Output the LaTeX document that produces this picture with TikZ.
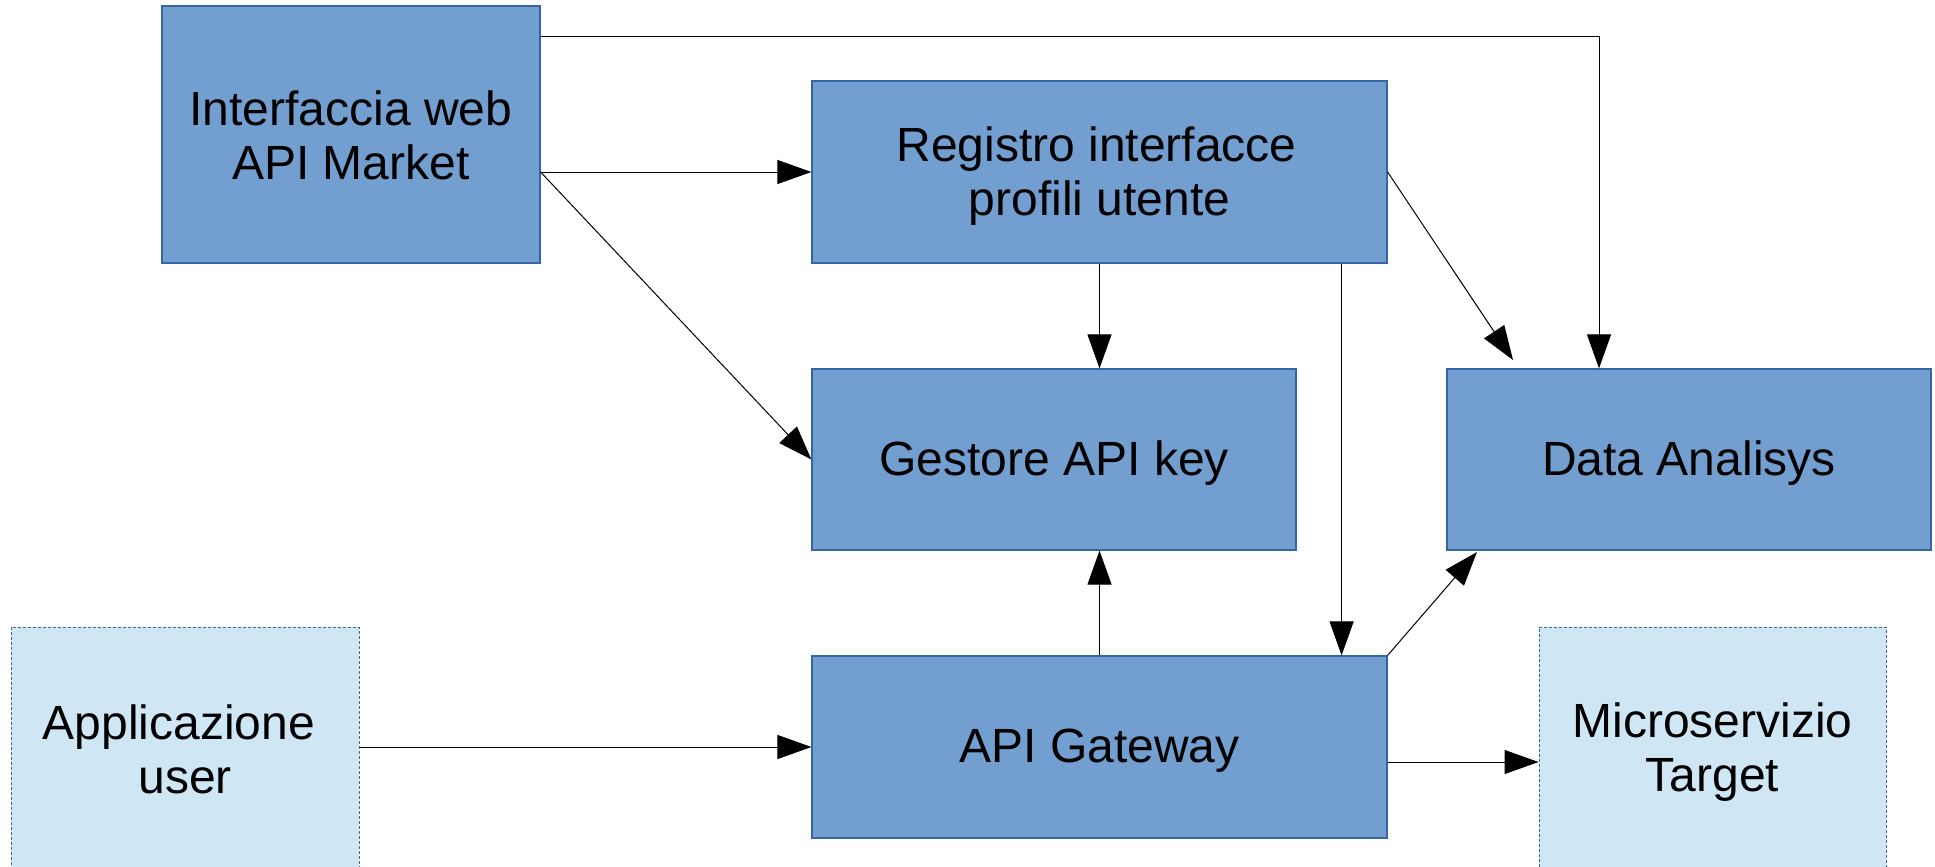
\documentclass[tikz,border=0pt]{standalone}
\usepackage{fontspec}
\setmainfont{Liberation Sans}
\usetikzlibrary{arrows.meta,calc}
\definecolor{boxblue}{HTML}{729FCF}
\definecolor{boxline}{HTML}{3465A4}
\definecolor{lightblue}{HTML}{CFE7F5}
\tikzset{
  darkbox/.style={fill=boxblue, draw=boxline, line width=1.2pt, inner sep=0pt},
  lightbox/.style={fill=lightblue, draw=boxline, line width=1pt, dash pattern=on 3pt off 2pt, inner sep=0pt},
  txt/.style={inner sep=0pt, align=center, font=\fontsize{48}{54}\selectfont},
  conn/.style={draw=black, line width=1pt, -{Triangle[length=34pt,width=24pt]}}
}
\begin{document}
\begin{tikzpicture}[x=1pt,y=-1pt]
\clip (0,0) rectangle (1935,867);
\fill[white] (0,0) rectangle (1935,867);
% boxes (positions in px)
\node[darkbox, minimum width=378pt, minimum height=257pt] (iw) at (351,134.5) {};
\node[darkbox, minimum width=575pt, minimum height=182pt] (rg) at (1099.5,172) {};
\node[darkbox, minimum width=484pt, minimum height=181pt] (gk) at (1054,459.5) {};
\node[darkbox, minimum width=484pt, minimum height=181pt] (da) at (1689,459.5) {};
\node[darkbox, minimum width=575pt, minimum height=182pt] (gw) at (1099.5,747) {};
\node[lightbox, minimum width=348pt, minimum height=244pt] (app) at (185,749) {};
\node[lightbox, minimum width=347pt, minimum height=244pt] (ms) at (1712.5,749) {};
% texts
\node[txt] (iwt) at ($(iw.center)+(0,1)$) {Interfaccia web\\API Market};
\node[txt] (rgt) at ($(rg.center)+(-3,4)$) {Registro interfacce\\\hspace*{6pt}profili utente};
\node[txt] (gkt) at ($(gk.center)+(0,4)$) {Gestore API key};
\node[txt] (dat) at ($(da.center)+(0,4)$) {Data Analisys};
\node[txt] (gwt) at ($(gw.center)+(0,4)$) {API Gateway};
\node[txt] (appt) at ($(app.center)+(-6,0)$) {Applicazione\\\hspace*{12pt}user};
\node[txt] (mst) at ($(ms.center)+(0,3)$) {Microservizio\\Target};
% connectors
\coordinate (iwtop) at ($(iw.north east)+(0,31)$);
\draw[conn] (iwtop) -| (da.north -| 1599,0);
\draw[conn] (iw.east |- rg.west) -- (rg.west);
\draw[conn] (iw.east |- rg.west) -- (gk.west);
\coordinate (rgda) at (1513,360);
\draw[conn] (rg.east) -- (rgda);
\draw[conn] (rg.south) -- (rg.south |- gk.north);
\coordinate (rgx) at ($(rg.south east)+(-46,0)$);
\draw[conn] (rgx) -- (rgx |- gw.north);
\draw[conn] (gw.north) -- (gw.north |- gk.south);
\coordinate (gwda) at (1477,552);
\draw[conn] (gw.north east) -- (gwda);
\draw[conn] (app.east |- gw.west) -- (gw.west);
\coordinate (gwms) at ($(gw.east)+(0,15)$);
\draw[conn] (gwms) -- (gwms -| ms.west);
\end{tikzpicture}
\end{document}
